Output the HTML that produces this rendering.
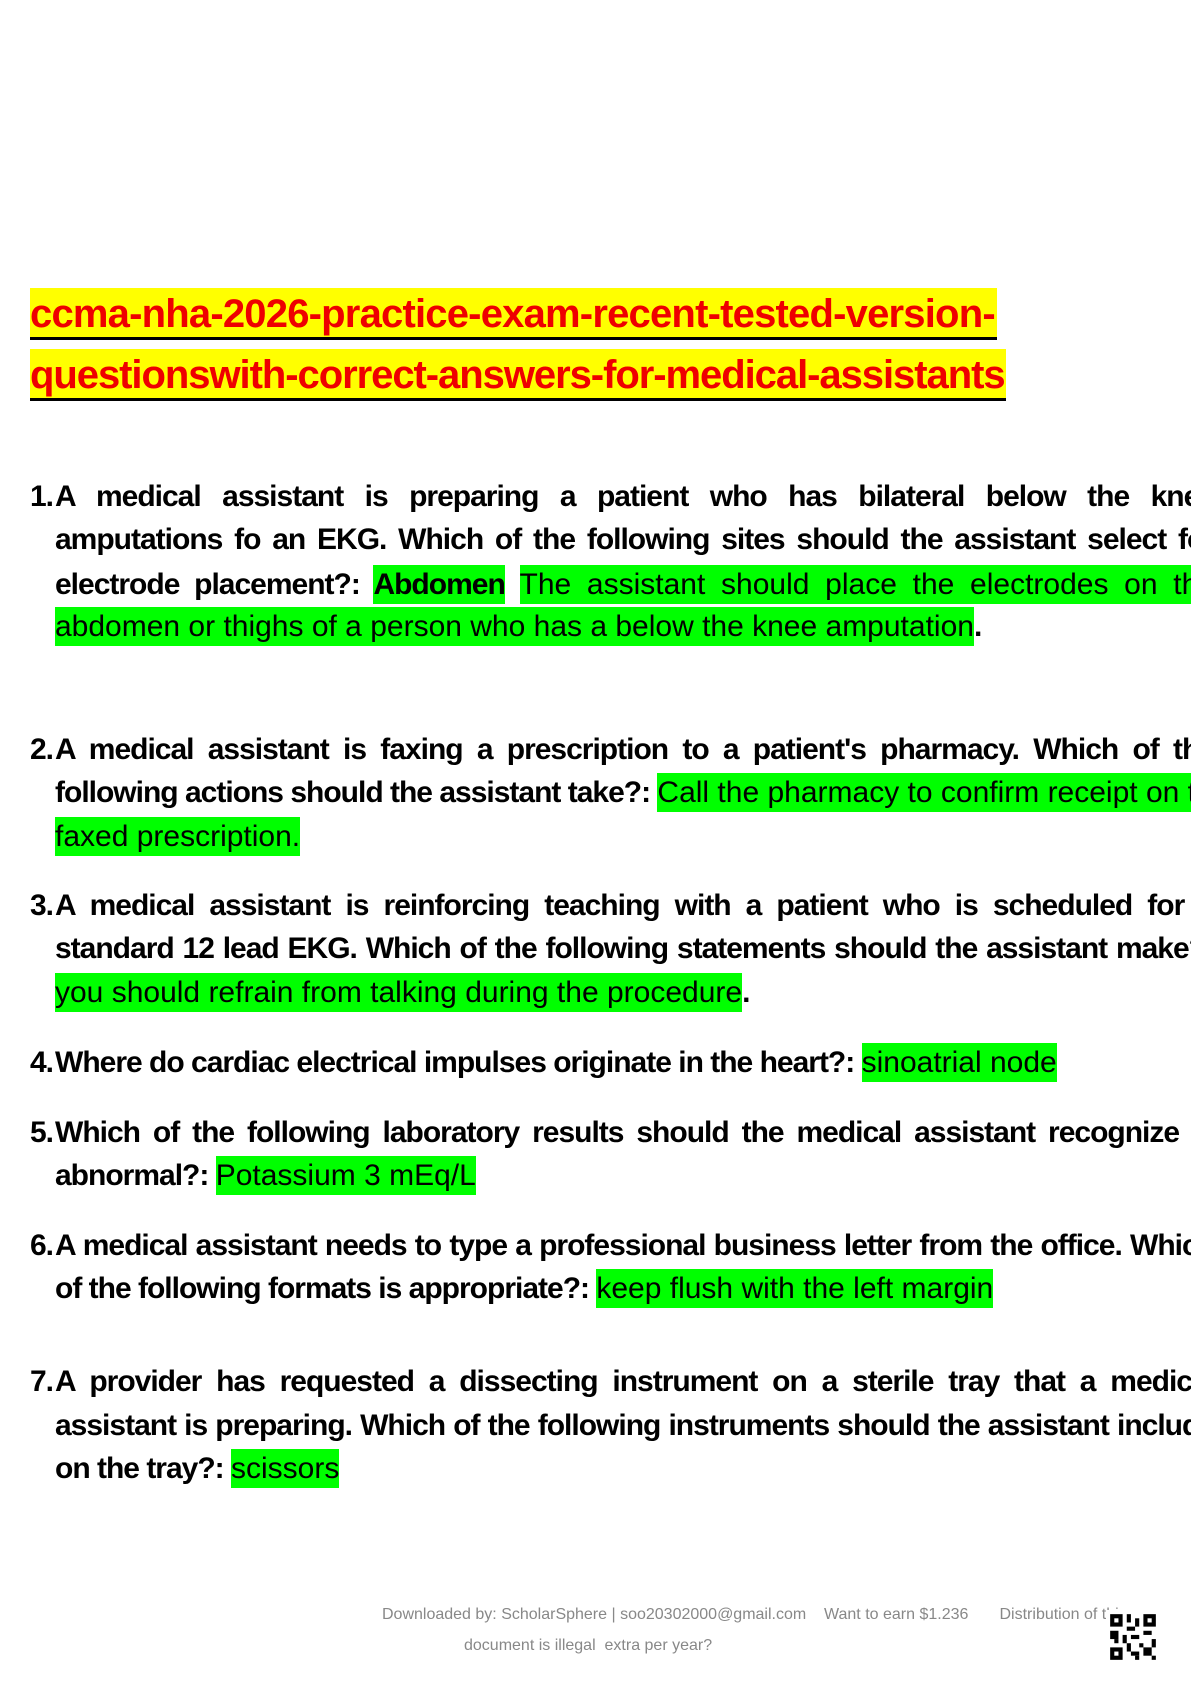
<!DOCTYPE html>
<html><head><meta charset="utf-8"><style>
html,body{margin:0;padding:0;background:#fff}
body{width:1191px;height:1684px;position:relative;overflow:hidden;font-family:"Liberation Sans",sans-serif}
.t{position:absolute;left:30px;height:52px;background:#ff0;color:#e00;font-weight:bold;font-size:40px;line-height:52px;white-space:nowrap;border-bottom:3px solid #000;box-sizing:border-box;letter-spacing:-0.8px}
.l{position:absolute;white-space:nowrap;font-weight:bold;font-size:30px;line-height:44px;height:44px;color:#000;letter-spacing:-1px}
.j{text-align:justify;text-align-last:justify;width:1160px}
.n{position:absolute;left:30px;font-weight:bold;font-size:30px;line-height:44px;letter-spacing:-1px}
.g{background:#0f0;font-weight:normal;padding:3px 0;letter-spacing:0}
.gb{background:#0f0;padding:3px 0}
.f{position:absolute;color:#888;font-size:16px;font-family:"Liberation Sans",sans-serif;white-space:nowrap}
</style></head><body>
<div class="t" style="top:288px;width:967px;">ccma-nha-2026-practice-exam-recent-tested-version-</div>
<div class="t" style="top:349px;width:976px;letter-spacing:-1.05px">questionswith-correct-answers-for-medical-assistants</div>

<div class="n" style="top:475px">1.</div>
<div class="l j" style="left:55px;top:475px">A medical assistant is preparing a patient who has bilateral below the knee</div>
<div class="l j" style="left:55px;top:518px">amputations fo an EKG. Which of the following sites should the assistant select for</div>
<div class="l j" style="left:55px;top:563px">electrode placement?: <span class="gb">Abdomen</span> <span class="g">The assistant should place the electrodes on the</span></div>
<div class="l" style="left:55px;top:605px"><span class="g">abdomen or thighs of a person who has a below the knee amputation</span>.</div>

<div class="n" style="top:728px">2.</div>
<div class="l j" style="left:55px;top:728px">A medical assistant is faxing a prescription to a patient's pharmacy. Which of the</div>
<div class="l" style="left:55px;top:771px">following actions should the assistant take?: <span class="g">Call the pharmacy to confirm receipt on the</span></div>
<div class="l" style="left:55px;top:815px"><span class="g">faxed prescription.</span></div>

<div class="n" style="top:884px">3.</div>
<div class="l j" style="left:55px;top:884px">A medical assistant is reinforcing teaching with a patient who is scheduled for a</div>
<div class="l j" style="left:55px;top:927px">standard 12 lead EKG. Which of the following statements should the assistant make?:</div>
<div class="l" style="left:55px;top:971px"><span class="g">you should refrain from talking during the procedure</span>.</div>

<div class="n" style="top:1041px">4.</div>
<div class="l" style="left:55px;top:1041px">Where do cardiac electrical impulses originate in the heart?: <span class="g">sinoatrial node</span></div>

<div class="n" style="top:1111px">5.</div>
<div class="l j" style="left:55px;top:1111px">Which of the following laboratory results should the medical assistant recognize is</div>
<div class="l" style="left:55px;top:1154px">abnormal?: <span class="g">Potassium 3 mEq/L</span></div>

<div class="n" style="top:1224px">6.</div>
<div class="l j" style="left:55px;top:1224px">A medical assistant needs to type a professional business letter from the office. Which</div>
<div class="l" style="left:55px;top:1267px">of the following formats is appropriate?: <span class="g">keep flush with the left margin</span></div>

<div class="n" style="top:1360px">7.</div>
<div class="l j" style="left:55px;top:1360px">A provider has requested a dissecting instrument on a sterile tray that a medical</div>
<div class="l j" style="left:55px;top:1404px">assistant is preparing. Which of the following instruments should the assistant include</div>
<div class="l" style="left:55px;top:1447px">on the tray?: <span class="g">scissors</span></div>

<div class="f" style="left:382px;top:1606px">Downloaded by: ScholarSphere | soo20302000@gmail.com &nbsp;&nbsp; Want to earn $1.236 &nbsp;&nbsp;&nbsp;&nbsp;&nbsp; Distribution of this</div>
<div class="f" style="left:464px;top:1637px">document is illegal &nbsp;extra per year?</div>
<svg style="position:absolute;left:1106px;top:1609px" width="54" height="56" viewBox="0 0 13 13">
<rect width="13" height="13" fill="#fff"/>
<g fill="#000">
<rect x="1" y="1" width="3" height="3"/><rect x="9" y="1" width="3" height="3"/><rect x="1" y="9" width="3" height="3"/>
<rect x="5" y="1" width="1" height="2"/><rect x="7" y="2" width="1" height="2"/><rect x="5" y="4" width="2" height="1"/><rect x="1" y="5" width="2" height="2"/>
<rect x="4" y="6" width="1" height="2"/><rect x="9" y="5" width="2" height="1"/><rect x="6" y="6" width="2" height="1"/><rect x="11" y="7" width="1" height="2"/>
<rect x="5" y="8" width="1" height="2"/><rect x="9" y="9" width="2" height="2"/><rect x="6" y="10" width="2" height="1"/><rect x="7" y="11" width="1" height="1"/><rect x="11" y="11" width="1" height="1"/><rect x="2" y="7" width="1" height="1"/><rect x="8" y="8" width="1" height="1"/>
</g>
<g fill="#fff"><rect x="2" y="2" width="1" height="1"/><rect x="10" y="2" width="1" height="1"/><rect x="2" y="10" width="1" height="1"/></g>
</svg>
</body></html>
